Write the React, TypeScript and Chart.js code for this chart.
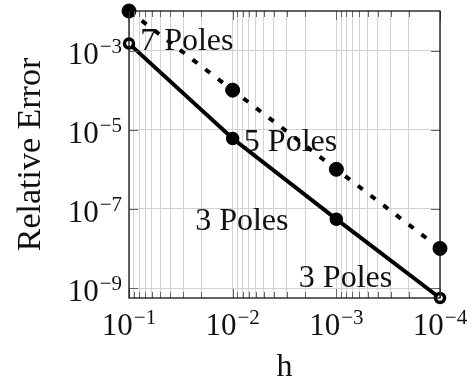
import React, { useEffect, useRef } from 'react';
import { Chart, registerables } from 'chart.js';

Chart.register(...registerables);

// ---- data ----
const hValues = [1e-1, 1e-2, 1e-3, 1e-4];
const errorSolid = [1.5e-3, 6e-6, 5.5e-8, 5.6e-10];
const errorDotted = [1e-2, 1e-4, 1e-6, 1e-8];
const xTickExponents = [-1, -2, -3, -4];
const yTickExponents = [-3, -5, -7, -9];
const annotationLabels = ['7 Poles', '5 Poles', '3 Poles', '3 Poles'];
const annotationH = [7.8e-2, 7.8e-3, 2.3e-2, 2.3e-3];
const annotationErr = [1.06e-3, 2.9e-6, 2.95e-8, 1.07e-9];
const xTitle = 'h';
const yTitle = 'Relative Error';
const xMin = 1e-4;
const xMax = 1e-1;
const yMin = 5.6e-10;
const yMax = 1e-2;

const FONT = '"Liberation Serif", "Times New Roman", serif';

function drawPow(ctx: CanvasRenderingContext2D, x: number, y: number, exp: number, align: 'center' | 'right') {
  const base = '10';
  const sup = '\u2212' + Math.abs(exp);
  ctx.font = `31px ${FONT}`;
  const wb = ctx.measureText(base).width;
  ctx.font = `21px ${FONT}`;
  const ws = ctx.measureText(sup).width;
  const gap = 1;
  const total = wb + gap + ws;
  const x0 = align === 'center' ? x - total / 2 : x - total;
  ctx.textAlign = 'left';
  ctx.textBaseline = 'alphabetic';
  ctx.font = `31px ${FONT}`;
  ctx.fillText(base, x0, y);
  ctx.font = `21px ${FONT}`;
  ctx.fillText(sup, x0 + wb + gap, y - 11);
}

const overlayPlugin = {
  id: 'overlay',
  afterDraw(chart: any) {
    const { ctx, chartArea: a, scales } = chart;
    const xs = scales.x;
    const ys = scales.y;
    ctx.save();
    // inward tick marks
    ctx.strokeStyle = '#666';
    ctx.lineWidth = 1;
    xs.ticks.forEach((t: any) => {
      const px = Math.round(xs.getPixelForValue(t.value)) + 0.5;
      const lg = Math.log10(t.value);
      const major = Math.abs(lg - Math.round(lg)) < 1e-6;
      const len = major ? 9 : 6;
      ctx.beginPath();
      ctx.moveTo(px, a.bottom);
      ctx.lineTo(px, a.bottom - len);
      ctx.moveTo(px, a.top);
      ctx.lineTo(px, a.top + len);
      ctx.stroke();
    });
    ys.ticks.forEach((t: any) => {
      const py = Math.round(ys.getPixelForValue(t.value)) + 0.5;
      ctx.beginPath();
      ctx.moveTo(a.left, py);
      ctx.lineTo(a.left + 9, py);
      ctx.moveTo(a.right, py);
      ctx.lineTo(a.right - 9, py);
      ctx.stroke();
    });
    // box
    ctx.strokeStyle = '#111';
    ctx.lineWidth = 1.3;
    ctx.strokeRect(a.left, a.top, a.right - a.left, a.bottom - a.top);
    // tick labels
    ctx.fillStyle = '#111';
    xTickExponents.forEach((e) => {
      const px = xs.getPixelForValue(Math.pow(10, e));
      drawPow(ctx, px, a.bottom + 37, e, 'center');
    });
    yTickExponents.forEach((e) => {
      const py = ys.getPixelForValue(Math.pow(10, e));
      drawPow(ctx, a.left - 7, py + 13, e, 'right');
    });
    // annotations
    ctx.font = `32px ${FONT}`;
    ctx.textAlign = 'left';
    ctx.textBaseline = 'alphabetic';
    annotationLabels.forEach((lab, i) => {
      const px = xs.getPixelForValue(annotationH[i]);
      const py = ys.getPixelForValue(annotationErr[i]);
      ctx.fillText(lab, px, py);
    });
    ctx.restore();
  },
};

export default function App() {
  const ref = useRef<HTMLCanvasElement | null>(null);
  useEffect(() => {
    if (!ref.current) return;
    Chart.defaults.font.family = FONT;
    const chart = new Chart(ref.current, {
      type: 'line',
      data: {
        datasets: [
          {
            label: 'dotted',
            data: hValues.map((h, i) => ({ x: h, y: errorDotted[i] })),
            borderColor: '#000',
            backgroundColor: '#000',
            borderWidth: 4,
            borderDash: [6, 10],
            borderCapStyle: 'butt',
            pointRadius: 7,
            pointBorderWidth: 1,
            pointBackgroundColor: '#000',
            pointBorderColor: '#000',
            clip: false,
          } as any,
          {
            label: 'solid',
            data: hValues.map((h, i) => ({ x: h, y: errorSolid[i] })),
            borderColor: '#000',
            backgroundColor: '#000',
            borderWidth: 4,
            tension: 0,
            pointRadius: [4.5, 5, 5, 4.5],
            pointBorderWidth: 3.5,
            pointBackgroundColor: ['#fff', '#000', '#000', '#fff'],
            pointBorderColor: '#000',
            clip: false,
          } as any,
        ],
      },
      options: {
        animation: false,
        responsive: false,
        events: [],
        layout: { padding: { top: 11, right: 32, left: 0, bottom: 0 } },
        plugins: { legend: { display: false }, tooltip: { enabled: false } },
        scales: {
          x: {
            type: 'logarithmic',
            reverse: true,
            min: xMin,
            max: xMax,
            border: { display: false },
            grid: { color: '#d2d2d2', lineWidth: 1, drawTicks: false },
            ticks: { display: false },
            title: {
              display: true,
              text: xTitle,
              color: '#111',
              font: { family: FONT, size: 32, lineHeight: 1 },
              padding: { top: 0, bottom: 1 },
            },
            afterBuildTicks: (scale: any) => {
              const t: any[] = [];
              for (let e = Math.round(Math.log10(xMin)); e < Math.round(Math.log10(xMax)); e++) {
                for (let m = 1; m <= 9; m++) t.push({ value: m * Math.pow(10, e) });
              }
              t.push({ value: xMax });
              scale.ticks = t;
            },
            afterFit: (scale: any) => {
              scale.height = 87;
            },
          },
          y: {
            type: 'logarithmic',
            min: yMin,
            max: yMax,
            border: { display: false },
            grid: { color: '#d2d2d2', lineWidth: 1, drawTicks: false },
            ticks: { display: false },
            title: {
              display: true,
              text: yTitle,
              color: '#111',
              font: { family: FONT, size: 34, lineHeight: 1 },
              padding: { top: 14, bottom: 0 },
            },
            afterBuildTicks: (scale: any) => {
              scale.ticks = yTickExponents.map((e) => ({ value: Math.pow(10, e) }));
            },
            afterFit: (scale: any) => {
              scale.width = 129;
            },
          },
        },
      } as any,
      plugins: [overlayPlugin],
    });
    return () => chart.destroy();
  }, []);
  return (
    <div style={{ position: 'fixed', left: 0, top: 0, width: 472, height: 385, background: '#fff' }}>
      <canvas ref={ref} width={472} height={385} />
    </div>
  );
}
